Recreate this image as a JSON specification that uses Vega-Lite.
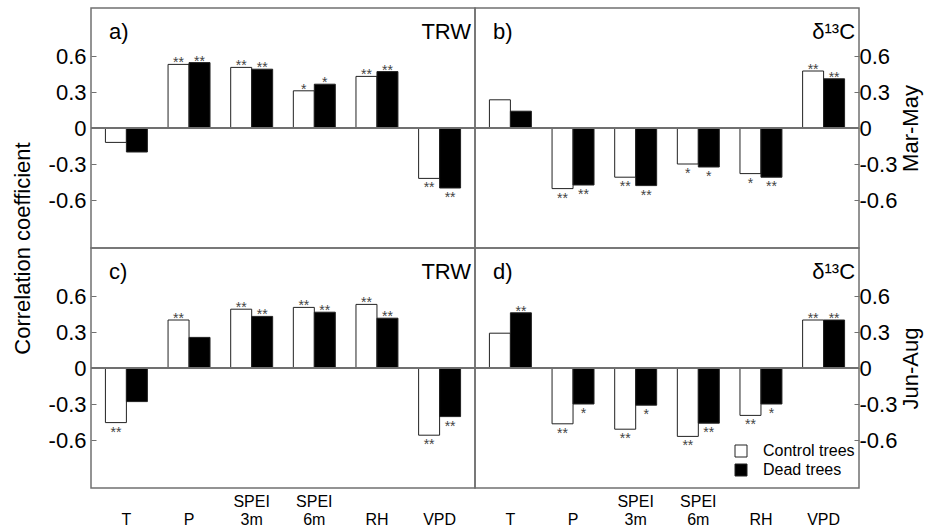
{
  "$schema": "https://vega.github.io/schema/vega-lite/v6.json",
  "padding": {"top": 7, "left": 10, "right": 5, "bottom": 5},
  "config": {
    "font": "Liberation Sans",
    "view": {"stroke": "#707070", "strokeWidth": 1.5},
    "axis": {"labelColor": "black", "titleColor": "black", "titleFontWeight": "normal", "tickColor": "#707070", "grid": false, "domain": false}
  },
  "datasets": {
    "corr": [
      {"panel": "a", "var": "T", "group": "Control trees", "r": -0.12, "sig": ""},
      {"panel": "a", "var": "T", "group": "Dead trees", "r": -0.2, "sig": ""},
      {"panel": "a", "var": "P", "group": "Control trees", "r": 0.53, "sig": "**"},
      {"panel": "a", "var": "P", "group": "Dead trees", "r": 0.545, "sig": "**"},
      {"panel": "a", "var": "SPEI 3m", "group": "Control trees", "r": 0.505, "sig": "**"},
      {"panel": "a", "var": "SPEI 3m", "group": "Dead trees", "r": 0.49, "sig": "**"},
      {"panel": "a", "var": "SPEI 6m", "group": "Control trees", "r": 0.31, "sig": "*"},
      {"panel": "a", "var": "SPEI 6m", "group": "Dead trees", "r": 0.365, "sig": "*"},
      {"panel": "a", "var": "RH", "group": "Control trees", "r": 0.43, "sig": "**"},
      {"panel": "a", "var": "RH", "group": "Dead trees", "r": 0.47, "sig": "**"},
      {"panel": "a", "var": "VPD", "group": "Control trees", "r": -0.42, "sig": "**"},
      {"panel": "a", "var": "VPD", "group": "Dead trees", "r": -0.5, "sig": "**"},
      {"panel": "b", "var": "T", "group": "Control trees", "r": 0.235, "sig": ""},
      {"panel": "b", "var": "T", "group": "Dead trees", "r": 0.14, "sig": ""},
      {"panel": "b", "var": "P", "group": "Control trees", "r": -0.505, "sig": "**"},
      {"panel": "b", "var": "P", "group": "Dead trees", "r": -0.475, "sig": "**"},
      {"panel": "b", "var": "SPEI 3m", "group": "Control trees", "r": -0.41, "sig": "**"},
      {"panel": "b", "var": "SPEI 3m", "group": "Dead trees", "r": -0.48, "sig": "**"},
      {"panel": "b", "var": "SPEI 6m", "group": "Control trees", "r": -0.3, "sig": "*"},
      {"panel": "b", "var": "SPEI 6m", "group": "Dead trees", "r": -0.325, "sig": "*"},
      {"panel": "b", "var": "RH", "group": "Control trees", "r": -0.38, "sig": "*"},
      {"panel": "b", "var": "RH", "group": "Dead trees", "r": -0.41, "sig": "**"},
      {"panel": "b", "var": "VPD", "group": "Control trees", "r": 0.475, "sig": "**"},
      {"panel": "b", "var": "VPD", "group": "Dead trees", "r": 0.41, "sig": "**"},
      {"panel": "c", "var": "T", "group": "Control trees", "r": -0.455, "sig": "**"},
      {"panel": "c", "var": "T", "group": "Dead trees", "r": -0.28, "sig": ""},
      {"panel": "c", "var": "P", "group": "Control trees", "r": 0.4, "sig": "**"},
      {"panel": "c", "var": "P", "group": "Dead trees", "r": 0.255, "sig": ""},
      {"panel": "c", "var": "SPEI 3m", "group": "Control trees", "r": 0.49, "sig": "**"},
      {"panel": "c", "var": "SPEI 3m", "group": "Dead trees", "r": 0.43, "sig": "**"},
      {"panel": "c", "var": "SPEI 6m", "group": "Control trees", "r": 0.505, "sig": "**"},
      {"panel": "c", "var": "SPEI 6m", "group": "Dead trees", "r": 0.465, "sig": "**"},
      {"panel": "c", "var": "RH", "group": "Control trees", "r": 0.53, "sig": "**"},
      {"panel": "c", "var": "RH", "group": "Dead trees", "r": 0.415, "sig": "**"},
      {"panel": "c", "var": "VPD", "group": "Control trees", "r": -0.56, "sig": "**"},
      {"panel": "c", "var": "VPD", "group": "Dead trees", "r": -0.405, "sig": "**"},
      {"panel": "d", "var": "T", "group": "Control trees", "r": 0.29, "sig": ""},
      {"panel": "d", "var": "T", "group": "Dead trees", "r": 0.46, "sig": "**"},
      {"panel": "d", "var": "P", "group": "Control trees", "r": -0.465, "sig": "**"},
      {"panel": "d", "var": "P", "group": "Dead trees", "r": -0.3, "sig": "*"},
      {"panel": "d", "var": "SPEI 3m", "group": "Control trees", "r": -0.51, "sig": "**"},
      {"panel": "d", "var": "SPEI 3m", "group": "Dead trees", "r": -0.31, "sig": "*"},
      {"panel": "d", "var": "SPEI 6m", "group": "Control trees", "r": -0.57, "sig": "**"},
      {"panel": "d", "var": "SPEI 6m", "group": "Dead trees", "r": -0.46, "sig": "**"},
      {"panel": "d", "var": "RH", "group": "Control trees", "r": -0.395, "sig": "**"},
      {"panel": "d", "var": "RH", "group": "Dead trees", "r": -0.3, "sig": "*"},
      {"panel": "d", "var": "VPD", "group": "Control trees", "r": 0.4, "sig": "**"},
      {"panel": "d", "var": "VPD", "group": "Dead trees", "r": 0.4, "sig": "**"}
    ]
  },
  "columns": 2,
  "spacing": 0,
  "bounds": "flush",
  "resolve": {"scale": {"fill": "independent"}, "legend": {"fill": "independent"}},
  "concat": [
    {
      "width": 384, "height": 240,
      "data": {"name": "corr"},
      "transform": [{"filter": "datum.panel == 'a'"}],
      "encoding": {
        "x": {"field": "var", "type": "nominal", "sort": null, "scale": {"domain": ["T", "P", "SPEI 3m", "SPEI 6m", "RH", "VPD"], "paddingInner": 0.33, "paddingOuter": 0.23}, "axis": null},
        "xOffset": {"field": "group", "type": "nominal", "sort": null, "scale": {"domain": ["Control trees", "Dead trees"], "paddingInner": 0, "paddingOuter": 0}},
        "y": {"field": "r", "type": "quantitative", "scale": {"domain": [-1, 1], "nice": false},
              "axis": {"orient": "left", "title": "Correlation coefficient", "titleY": 240, "titleFontSize": 22, "titlePadding": 14, "values": [-0.6, -0.3, 0, 0.3, 0.6], "labelExpr": "datum.value < 0 ? '-' + format(-datum.value, '.1f') : (datum.value == 0 ? '0' : format(datum.value, '.1f'))", "tickSize": -5, "labelFontSize": 22, "labelPadding": 10}}
      },
      "layer": [
        {"mark": {"type": "bar", "stroke": "#222", "strokeWidth": 1}, "encoding": {"fill": {"field": "group", "type": "nominal", "scale": {"domain": ["Control trees", "Dead trees"], "range": ["white", "black"]}, "legend": null}}},
        {"mark": {"type": "rule", "color": "#707070", "strokeWidth": 1}, "encoding": {"x": null, "xOffset": null, "y": {"datum": 0}}},
        {"transform": [{"filter": "datum.r > 0"}], "mark": {"type": "text", "baseline": "alphabetic", "dy": 3, "fontSize": 14, "color": "#444"}, "encoding": {"text": {"field": "sig"}}},
        {"transform": [{"filter": "datum.r < 0"}], "mark": {"type": "text", "baseline": "alphabetic", "dy": 14, "fontSize": 14, "color": "#444"}, "encoding": {"text": {"field": "sig"}}},
        {"transform": [{"filter": "datum.var == 'T' && datum.group == 'Control trees'"}], "mark": {"type": "text", "align": "left", "baseline": "middle", "fontSize": 22, "dx": -7}, "encoding": {"y": {"datum": 0.8}, "text": {"value": "a)"}}},
        {"transform": [{"filter": "datum.var == 'VPD' && datum.group == 'Dead trees'"}], "mark": {"type": "text", "align": "right", "baseline": "middle", "fontSize": 22, "dx": 21}, "encoding": {"y": {"datum": 0.8}, "text": {"value": "TRW"}}}
      ]
    },
    {
      "width": 384, "height": 240,
      "data": {"name": "corr"},
      "transform": [{"filter": "datum.panel == 'b'"}],
      "encoding": {
        "x": {"field": "var", "type": "nominal", "sort": null, "scale": {"domain": ["T", "P", "SPEI 3m", "SPEI 6m", "RH", "VPD"], "paddingInner": 0.33, "paddingOuter": 0.23}, "axis": null},
        "xOffset": {"field": "group", "type": "nominal", "sort": null, "scale": {"domain": ["Control trees", "Dead trees"], "paddingInner": 0, "paddingOuter": 0}},
        "y": {"field": "r", "type": "quantitative", "scale": {"domain": [-1, 1], "nice": false},
              "axis": {"orient": "right", "title": "Mar-May", "titleAngle": 270, "titleBaseline": "top", "titleFontSize": 22, "titlePadding": 4, "values": [-0.6, -0.3, 0, 0.3, 0.6], "labelExpr": "datum.value < 0 ? '-' + format(-datum.value, '.1f') : (datum.value == 0 ? '0' : format(datum.value, '.1f'))", "tickSize": -5, "labelFontSize": 22, "labelPadding": 5}}
      },
      "layer": [
        {"mark": {"type": "bar", "stroke": "#222", "strokeWidth": 1}, "encoding": {"fill": {"field": "group", "type": "nominal", "scale": {"domain": ["Control trees", "Dead trees"], "range": ["white", "black"]}, "legend": null}}},
        {"mark": {"type": "rule", "color": "#707070", "strokeWidth": 1}, "encoding": {"x": null, "xOffset": null, "y": {"datum": 0}}},
        {"transform": [{"filter": "datum.r > 0"}], "mark": {"type": "text", "baseline": "alphabetic", "dy": 3, "fontSize": 14, "color": "#444"}, "encoding": {"text": {"field": "sig"}}},
        {"transform": [{"filter": "datum.r < 0"}], "mark": {"type": "text", "baseline": "alphabetic", "dy": 14, "fontSize": 14, "color": "#444"}, "encoding": {"text": {"field": "sig"}}},
        {"transform": [{"filter": "datum.var == 'T' && datum.group == 'Control trees'"}], "mark": {"type": "text", "align": "left", "baseline": "middle", "fontSize": 22, "dx": -7}, "encoding": {"y": {"datum": 0.8}, "text": {"value": "b)"}}},
        {"transform": [{"filter": "datum.var == 'VPD' && datum.group == 'Dead trees'"}], "mark": {"type": "text", "align": "right", "baseline": "middle", "fontSize": 22, "dx": 21}, "encoding": {"y": {"datum": 0.8}, "text": {"value": "δ¹³C"}}}
      ]
    },
    {
      "width": 384, "height": 240,
      "data": {"name": "corr"},
      "transform": [{"filter": "datum.panel == 'c'"}],
      "encoding": {
        "x": {"field": "var", "type": "nominal", "sort": null, "scale": {"domain": ["T", "P", "SPEI 3m", "SPEI 6m", "RH", "VPD"], "paddingInner": 0.33, "paddingOuter": 0.23},
              "axis": {"title": null, "ticks": false, "labelAngle": 0, "labelFontSize": 16, "labelPadding": 5, "labelLineHeight": 18, "labelExpr": "indexof(datum.value, ' ') > 0 ? split(datum.value, ' ') : ['', datum.value]"}},
        "xOffset": {"field": "group", "type": "nominal", "sort": null, "scale": {"domain": ["Control trees", "Dead trees"], "paddingInner": 0, "paddingOuter": 0}},
        "y": {"field": "r", "type": "quantitative", "scale": {"domain": [-1, 1], "nice": false},
              "axis": {"orient": "left", "title": null, "values": [-0.6, -0.3, 0, 0.3, 0.6], "labelExpr": "datum.value < 0 ? '-' + format(-datum.value, '.1f') : (datum.value == 0 ? '0' : format(datum.value, '.1f'))", "tickSize": -5, "labelFontSize": 22, "labelPadding": 10}}
      },
      "layer": [
        {"mark": {"type": "bar", "stroke": "#222", "strokeWidth": 1}, "encoding": {"fill": {"field": "group", "type": "nominal", "scale": {"domain": ["Control trees", "Dead trees"], "range": ["white", "black"]}, "legend": null}}},
        {"mark": {"type": "rule", "color": "#707070", "strokeWidth": 1}, "encoding": {"x": null, "xOffset": null, "y": {"datum": 0}}},
        {"transform": [{"filter": "datum.r > 0"}], "mark": {"type": "text", "baseline": "alphabetic", "dy": 3, "fontSize": 14, "color": "#444"}, "encoding": {"text": {"field": "sig"}}},
        {"transform": [{"filter": "datum.r < 0"}], "mark": {"type": "text", "baseline": "alphabetic", "dy": 14, "fontSize": 14, "color": "#444"}, "encoding": {"text": {"field": "sig"}}},
        {"transform": [{"filter": "datum.var == 'T' && datum.group == 'Control trees'"}], "mark": {"type": "text", "align": "left", "baseline": "middle", "fontSize": 22, "dx": -7}, "encoding": {"y": {"datum": 0.8}, "text": {"value": "c)"}}},
        {"transform": [{"filter": "datum.var == 'VPD' && datum.group == 'Dead trees'"}], "mark": {"type": "text", "align": "right", "baseline": "middle", "fontSize": 22, "dx": 21}, "encoding": {"y": {"datum": 0.8}, "text": {"value": "TRW"}}}
      ]
    },
    {
      "width": 384, "height": 240,
      "data": {"name": "corr"},
      "transform": [{"filter": "datum.panel == 'd'"}],
      "encoding": {
        "x": {"field": "var", "type": "nominal", "sort": null, "scale": {"domain": ["T", "P", "SPEI 3m", "SPEI 6m", "RH", "VPD"], "paddingInner": 0.33, "paddingOuter": 0.23},
              "axis": {"title": null, "ticks": false, "labelAngle": 0, "labelFontSize": 16, "labelPadding": 5, "labelLineHeight": 18, "labelExpr": "indexof(datum.value, ' ') > 0 ? split(datum.value, ' ') : ['', datum.value]"}},
        "xOffset": {"field": "group", "type": "nominal", "sort": null, "scale": {"domain": ["Control trees", "Dead trees"], "paddingInner": 0, "paddingOuter": 0}},
        "y": {"field": "r", "type": "quantitative", "scale": {"domain": [-1, 1], "nice": false},
              "axis": {"orient": "right", "title": "Jun-Aug", "titleAngle": 270, "titleBaseline": "top", "titleFontSize": 22, "titlePadding": 4, "values": [-0.6, -0.3, 0, 0.3, 0.6], "labelExpr": "datum.value < 0 ? '-' + format(-datum.value, '.1f') : (datum.value == 0 ? '0' : format(datum.value, '.1f'))", "tickSize": -5, "labelFontSize": 22, "labelPadding": 5}}
      },
      "layer": [
        {"mark": {"type": "bar", "stroke": "#222", "strokeWidth": 1}, "encoding": {"fill": {"field": "group", "type": "nominal", "scale": {"domain": ["Control trees", "Dead trees"], "range": ["white", "black"]},
          "legend": {"title": null, "orient": "none", "legendX": 258, "legendY": 195, "padding": 0, "symbolType": "square", "symbolSize": 144, "symbolStrokeColor": "#222", "symbolStrokeWidth": 1, "labelFontSize": 16, "labelColor": "black", "labelOffset": 14, "rowPadding": 3}}}},
        {"mark": {"type": "rule", "color": "#707070", "strokeWidth": 1}, "encoding": {"x": null, "xOffset": null, "y": {"datum": 0}}},
        {"transform": [{"filter": "datum.r > 0"}], "mark": {"type": "text", "baseline": "alphabetic", "dy": 3, "fontSize": 14, "color": "#444"}, "encoding": {"text": {"field": "sig"}}},
        {"transform": [{"filter": "datum.r < 0"}], "mark": {"type": "text", "baseline": "alphabetic", "dy": 14, "fontSize": 14, "color": "#444"}, "encoding": {"text": {"field": "sig"}}},
        {"transform": [{"filter": "datum.var == 'T' && datum.group == 'Control trees'"}], "mark": {"type": "text", "align": "left", "baseline": "middle", "fontSize": 22, "dx": -7}, "encoding": {"y": {"datum": 0.8}, "text": {"value": "d)"}}},
        {"transform": [{"filter": "datum.var == 'VPD' && datum.group == 'Dead trees'"}], "mark": {"type": "text", "align": "right", "baseline": "middle", "fontSize": 22, "dx": 21}, "encoding": {"y": {"datum": 0.8}, "text": {"value": "δ¹³C"}}}
      ]
    }
  ]
}
